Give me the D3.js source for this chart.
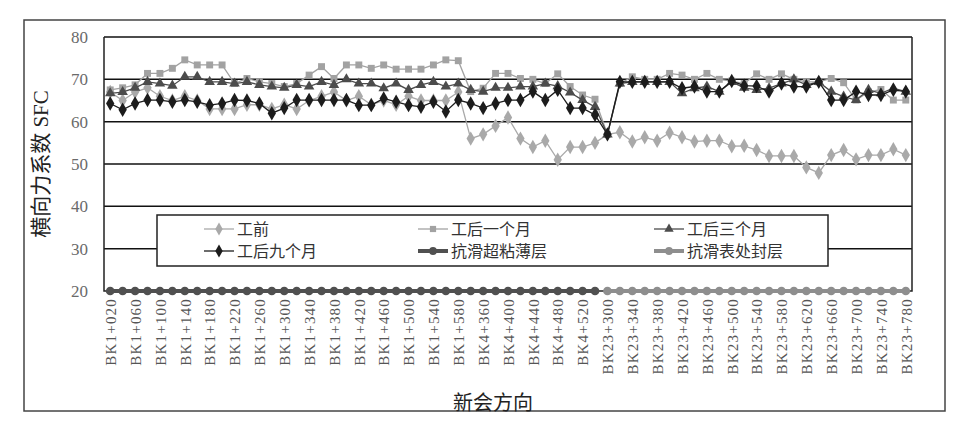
<!DOCTYPE html>
<html>
<head>
<meta charset="utf-8">
<script src="https://cdn.jsdelivr.net/npm/d3@7/dist/d3.min.js"></script>
<style>
  body { margin: 0; background: #fff; }
  svg { display: block; }
</style>
</head>
<body>
<div id="chart"></div>
<script>
// stations along the route (only every other one gets a label)
const categories = [
  "BK1+020","BK1+040","BK1+060","BK1+080","BK1+100","BK1+120","BK1+140","BK1+160","BK1+180","BK1+200",
  "BK1+220","BK1+240","BK1+260","BK1+280","BK1+300","BK1+320","BK1+340","BK1+360","BK1+380","BK1+400",
  "BK1+420","BK1+440","BK1+460","BK1+480","BK1+500","BK1+520","BK1+540","BK1+560","BK1+580","BK1+600",
  "BK4+360","BK4+380","BK4+400","BK4+420","BK4+440","BK4+460","BK4+480","BK4+500","BK4+520","BK4+540",
  "BK23+300","BK23+320","BK23+340","BK23+360","BK23+380","BK23+400","BK23+420","BK23+440","BK23+460","BK23+480",
  "BK23+500","BK23+520","BK23+540","BK23+560","BK23+580","BK23+600","BK23+620","BK23+640","BK23+660","BK23+680",
  "BK23+700","BK23+720","BK23+740","BK23+760","BK23+780"
];

const yTicks = [20, 30, 40, 50, 60, 70, 80];

// 工前
const beforeWork = [
  67, 65, 67, 68, 66, 65, 66, 65, 63, 63, 63, 64, 64, 63, 64, 63, 65, 66, 67, 65,
  66, 64, 65, 64, 66, 65, 65, 65, 67, 56, 57, 59, 61, 56, 54, 55.5, 51, 54, 54, 55,
  57, 57.5, 55.3, 56.3, 55.5, 57.4, 56.3, 55.3, 55.5, 55.5, 54.2, 54.3, 53.3, 51.9, 51.9, 51.9,
  49.2, 47.9, 52.1, 53.3, 51.1, 52.1, 52.1, 53.5, 52.1
];
// 工后一个月
const oneMonth = [
  67.5, 68, 68.7, 71.4, 71.4, 72.6, 74.6, 73.4, 73.4, 73.4, 69, 70.2, 69.4,
  69, 68.3, 69, 71, 73, 70.2, 73.4, 73.4, 72.6, 73.4, 72.4, 72.4, 72.4,
  73.4, 74.6, 74.4, 67.1, 67.9, 71.4, 71.4, 70.2, 70, 69, 71.3, 68.3, 66.3,
  65.3, 57, 69, 70.6, 70, 70, 71.4, 71, 70, 71.4, 70, 69.6, 69,
  71.3, 70, 71.3, 70, 69.4, 69.4, 70.2, 69.2, 65.1, 67, 67.6, 65.1, 65.1
];
// 工后三个月
const threeMonths = [
  66.7, 67, 68, 69.4, 69, 68.5, 70.6, 70.6, 69.4, 69.4, 69, 69.4, 68.7,
  68.3, 68, 68.7, 68.3, 69.4, 68.7, 70, 69, 69, 67.9, 69, 67.5, 68.7,
  69.4, 68.3, 69, 67.5, 67.1, 68, 68, 68.3, 68.3, 69, 68.4, 66.9, 65.1,
  63.5, 57, 69, 69.4, 69.4, 69.4, 69.4, 66.7, 67.9, 68.3, 67.1, 69.4, 68,
  67.5, 67.9, 69, 70, 68.7, 69.4, 67.1, 65.9, 65.1, 67.5, 66.7, 67.9, 67.1
];
// 工后九个月
const nineMonths = [
  64.3, 62.8, 64.3, 65.1, 65.1, 64.7, 65.1, 64.7, 63.9, 64.3, 65.1, 65, 64.3,
  62, 63.2, 65.1, 65.1, 65.1, 65.1, 65.1, 63.9, 63.9, 65.5, 64.7, 63.9, 63.5,
  64.7, 62.4, 65.1, 64.3, 63.2, 64.3, 65.1, 65.1, 67.1, 65.1, 67.5, 63.2, 63.2,
  61.6, 57, 69.4, 69.4, 69.4, 69.4, 69.4, 67.9, 68.3, 67.1, 67.1, 69.6, 68.5,
  68.4, 67.1, 69, 68.3, 68.3, 69.4, 65.1, 65.1, 67.1, 66.3, 66.3, 67.5, 67.1
];
// 抗滑超粘薄层 (BK1, BK4 sections)
const thinLayer = [
  20, 20, 20, 20, 20, 20, 20, 20, 20, 20, 20, 20, 20, 20, 20, 20, 20, 20, 20, 20,
  20, 20, 20, 20, 20, 20, 20, 20, 20, 20, 20, 20, 20, 20, 20, 20, 20, 20, 20, 20,
  null, null, null, null, null, null, null, null, null, null, null, null, null,
  null, null, null, null, null, null, null, null, null, null, null, null
];
// 抗滑表处封层 (BK23 section)
const sealLayer = [
  null, null, null, null, null, null, null, null, null, null, null, null, null, null, null, null, null, null, null, null,
  null, null, null, null, null, null, null, null, null, null, null, null, null, null, null, null, null, null, null, null,
  20, 20, 20, 20, 20, 20, 20, 20, 20, 20, 20, 20, 20,
  20, 20, 20, 20, 20, 20, 20, 20, 20, 20, 20, 20
];

const series = [
  { name: "工前",         values: beforeWork,  color: "#a9a9a9", width: 1.3, marker: "diamond",  size: 60 },
  { name: "工后一个月",   values: oneMonth,    color: "#a2a2a2", width: 1.3, marker: "square",   size: 48 },
  { name: "工后三个月",   values: threeMonths, color: "#4c4c4c", width: 1.3, marker: "triangle", size: 48 },
  { name: "工后九个月",   values: nineMonths,  color: "#1c1c1c", width: 1.3, marker: "diamond",  size: 60 },
  { name: "抗滑超粘薄层", values: thinLayer,   color: "#505050", width: 4,   marker: "circle",   size: 60 },
  { name: "抗滑表处封层", values: sealLayer,   color: "#8e8e8e", width: 4,   marker: "circle",   size: 60 }
];

const W = 967, H = 448;
const plot = { left: 104, right: 912, top: 37, bottom: 291 };

const svg = d3.select("#chart").append("svg")
  .attr("width", W)
  .attr("height", H);

// outer frame
svg.append("rect")
  .attr("x", 24).attr("y", 20)
  .attr("width", 921).attr("height", 391)
  .attr("fill", "none")
  .attr("stroke", "#444")
  .attr("stroke-width", 1.5);

const x = d3.scalePoint()
  .domain(categories)
  .range([plot.left, plot.right])
  .padding(0.5);

const y = d3.scaleLinear()
  .domain([20, 80])
  .range([plot.bottom, plot.top]);

// horizontal grid lines
svg.append("g")
  .selectAll("line")
  .data(yTicks.filter(t => t > 20))
  .join("line")
  .attr("x1", plot.left).attr("x2", plot.right)
  .attr("y1", d => y(d)).attr("y2", d => y(d))
  .attr("stroke", "#111")
  .attr("stroke-width", 1.5);

// plot border (left, right, bottom)
svg.append("path")
  .attr("d", `M${plot.left},${plot.top}V${plot.bottom}H${plot.right}V${plot.top}`)
  .attr("fill", "none")
  .attr("stroke", "#222")
  .attr("stroke-width", 1.5);

// y axis
const yAxis = svg.append("g")
  .attr("transform", `translate(${plot.left},0)`)
  .call(d3.axisLeft(y).tickValues(yTicks).tickSize(0).tickPadding(16));
yAxis.select(".domain").remove();
yAxis.selectAll("text")
  .attr("fill", "#6a6a6a")
  .style("font-family", "'Liberation Serif', 'DejaVu Serif', serif")
  .style("font-size", "17px");

// x axis labels, every other station
const xAxis = svg.append("g")
  .attr("transform", `translate(0,${plot.bottom})`)
  .call(d3.axisBottom(x)
    .tickValues(categories.filter((d, i) => i % 2 === 0))
    .tickSize(0));
xAxis.select(".domain").remove();
xAxis.selectAll("text")
  .attr("transform", "rotate(-90)")
  .attr("text-anchor", "end")
  .attr("dx", "-7px")
  .attr("dy", "0.35em")
  .attr("y", 0)
  .attr("fill", "#555")
  .style("font-family", "'Liberation Serif', 'DejaVu Serif', serif")
  .style("font-size", "15px")
  .style("letter-spacing", "1.2px");

// axis titles
svg.append("text")
  .attr("transform", "translate(48,164) rotate(-90)")
  .attr("text-anchor", "middle")
  .attr("fill", "#222")
  .style("font-family", "'Liberation Serif', 'Noto Sans CJK SC', serif")
  .style("font-size", "21px")
  .text("横向力系数 SFC");

svg.append("text")
  .attr("x", 493).attr("y", 410)
  .attr("text-anchor", "middle")
  .attr("fill", "#222")
  .style("font-family", "'Noto Sans CJK SC', sans-serif")
  .style("font-size", "20px")
  .text("新会方向");

const symbolType = {
  diamond: d3.symbolDiamond,
  square: d3.symbolSquare,
  triangle: d3.symbolTriangle,
  circle: d3.symbolCircle
};

const line = d3.line()
  .defined(d => d.v != null)
  .x(d => x(d.c))
  .y(d => y(d.v));

// series
for (const s of series) {
  const pts = categories.map((c, i) => ({ c: c, v: s.values[i] }));
  const g = svg.append("g");
  g.append("path")
    .datum(pts)
    .attr("d", line)
    .attr("fill", "none")
    .attr("stroke", s.color)
    .attr("stroke-width", s.width);
  g.selectAll("path.mk")
    .data(pts.filter(d => d.v != null))
    .join("path")
    .attr("class", "mk")
    .attr("transform", d => `translate(${x(d.c)},${y(d.v)})`)
    .attr("d", d3.symbol().type(symbolType[s.marker]).size(s.size))
    .attr("fill", s.color);
}

// legend
const legend = svg.append("g");
legend.append("rect")
  .attr("x", 157).attr("y", 215)
  .attr("width", 671).attr("height", 51)
  .attr("fill", "#fff")
  .attr("stroke", "#222")
  .attr("stroke-width", 1.5);

const colX = [204, 418, 654];
const rowY = [229, 251];

series.forEach((s, i) => {
  const lx = colX[i % 3], ly = rowY[Math.floor(i / 3)];
  const item = legend.append("g").attr("transform", `translate(${lx},${ly})`);
  item.append("line")
    .attr("x1", 0).attr("x2", 30)
    .attr("stroke", s.color)
    .attr("stroke-width", s.width);
  item.append("path")
    .attr("transform", "translate(15,0)")
    .attr("d", d3.symbol().type(symbolType[s.marker]).size(s.size * 0.8))
    .attr("fill", s.color);
  item.append("text")
    .attr("x", 33).attr("y", 0)
    .attr("dy", "0.35em")
    .attr("fill", "#333")
    .style("font-family", "'Noto Sans CJK SC', sans-serif")
    .style("font-size", "16px")
    .text(s.name);
});
</script>
</body>
</html>
